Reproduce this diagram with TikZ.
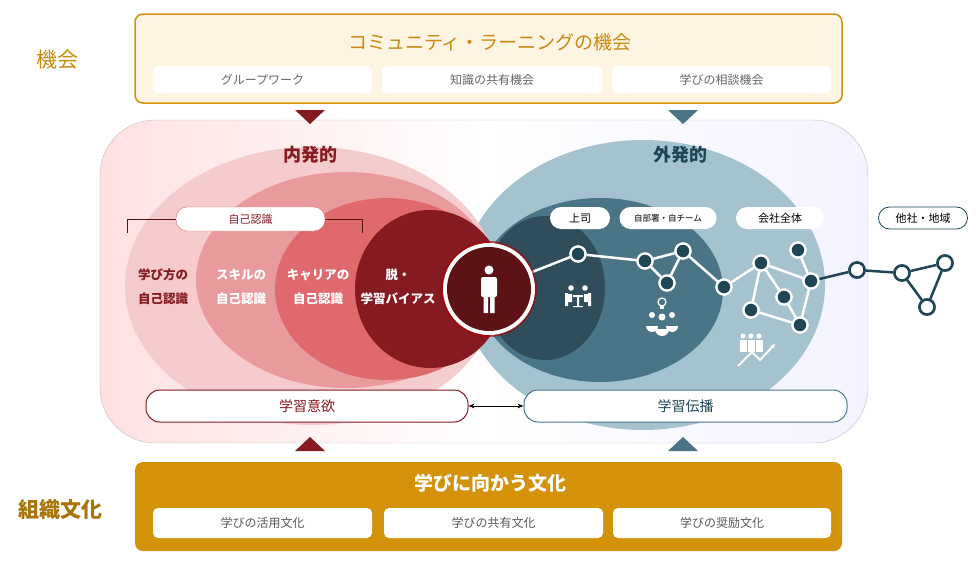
\documentclass[tikz,border=0pt]{standalone}
\usepackage{fontspec}
\setmainfont{Noto Sans CJK JP}
\usetikzlibrary{arrows.meta}
\definecolor{gold}{HTML}{D4920A}
\definecolor{goldtxt}{HTML}{C98A12}
\definecolor{cream}{HTML}{FDF4E2}
\definecolor{dred}{HTML}{851A20}
\definecolor{pk1}{HTML}{F4C8CA}
\definecolor{pk2}{HTML}{E99A9D}
\definecolor{pk3}{HTML}{E0696E}
\definecolor{bl1}{HTML}{A4C3CF}
\definecolor{bl2}{HTML}{4A7587}
\definecolor{bl3}{HTML}{2F4D5A}
\definecolor{teal}{HTML}{1F4654}
\tikzset{x=1pt,y=-1pt,
 wbox/.style={fill=white,rounded corners=5pt},
 pill/.style={fill=white,rounded corners=11pt,inner sep=0pt},
 nd/.style={circle,fill=teal,draw=white,line width=2.2pt,minimum size=15pt,inner sep=0pt},
 od/.style={circle,fill=white,draw=teal,line width=2.5pt,minimum size=15pt,inner sep=0pt},
 wl/.style={white,line width=2.5pt},
 dl/.style={teal,line width=2.5pt}}
\begin{document}
\begin{tikzpicture}
\useasboundingbox (0,0) rectangle (980,570);
% top box
\draw[gold,line width=1.5pt,fill=cream,rounded corners=8pt] (135,14) rectangle (842,103);
\node[goldtxt,font=\fontsize{19}{20}\selectfont] (tt) at (490,42) {コミュニティ・ラーニングの機会};
\foreach \a/\b/\t in {153/372/グループワーク,382/602/知識の共有機会,612/831/学びの相談機会}
 {\draw[wbox,draw=none] (\a,66) rectangle (\b,93); \node[gray!80!black,font=\fontsize{12}{12}\selectfont] at ({(\a+\b)/2},79.5) {\t};}
\node[goldtxt,font=\fontsize{21}{22}\selectfont] (k1) at (57,60) {機会};
% big area
\shade[left color=red!12,right color=cyan!8!blue!5,middle color=white,rounded corners=55pt] (100,120) rectangle (868,443);
\draw[gray!50,rounded corners=55pt] (100,120) rectangle (868,443);
\fill[dred] (295,110) -- (325,110) -- (310,124) -- cycle;
\fill[bl2] (668,110) -- (698,110) -- (683,124) -- cycle;
\fill[dred] (295,451) -- (325,451) -- (310,437) -- cycle;
\fill[bl2] (668,451) -- (698,451) -- (683,437) -- cycle;
% blue ellipses
\fill[bl1] (643,285) ellipse [x radius=182,y radius=145];
\fill[bl2] (600,290) ellipse [x radius=123,y radius=92];
\fill[bl3] (545,288) ellipse [x radius=60,y radius=72];
% red ellipses
\fill[pk1,opacity=0.9] (312,286) ellipse [x radius=187,y radius=139];
\fill[pk2] (346,280) ellipse [x radius=150,y radius=108];
\fill[pk3] (387,289) ellipse [x radius=112,y radius=91];
\fill[dred] (430,289) ellipse [x radius=75,y radius=79];
\node[dred,font=\bfseries\fontsize{18}{18}\selectfont] (in) at (310,155) {内発的};
\node[teal,font=\bfseries\fontsize{18}{18}\selectfont] (ex) at (680,155) {外発的};
% self recognition bracket
\draw[dred!70!black] (127,233) -- (127,219) -- (176,219) (325,219) -- (362,219) -- (362,233);
\node[pill,draw=pk3,minimum width=149pt,minimum height=24pt,text=dred,font=\fontsize{11}{11}\selectfont] (sr) at (250.5,219) {自己認識};
\node[dred,align=center,font=\bfseries\fontsize{12.5}{24}\selectfont] (t1) at (163,287) {学び方の\\自己認識};
\node[white,align=center,font=\bfseries\fontsize{12.5}{24}\selectfont] (t2) at (241,287) {スキルの\\自己認識};
\node[white,align=center,font=\bfseries\fontsize{12.5}{24}\selectfont] (t3) at (318,287) {キャリアの\\自己認識};
\node[white,align=center,font=\bfseries\fontsize{12.5}{24}\selectfont] (t4) at (398,287) {脱・\\学習バイアス};
% network
\node[nd] (n1) at (578,254) {};
\node[nd] (n2) at (645,261) {};
\node[nd] (n3) at (683,251) {};
\node[nd] (n4) at (667,283) {};
\node[nd] (n5) at (724,287) {};
\node[nd] (n6) at (761,263) {};
\node[nd] (n7) at (798,250) {};
\node[nd] (n8) at (811,281) {};
\node[nd] (n9) at (784,297) {};
\node[nd] (n10) at (751,310) {};
\node[nd] (n11) at (800,325) {};
\node[od] (m1) at (857,270) {};
\node[od] (m2) at (902,273) {};
\node[od] (m3) at (945,263) {};
\node[od] (m4) at (927,307) {};
\coordinate (pc) at (489,289);
\draw[wl] (pc) -- (n1) (n1) -- (n2) (n2) -- (n3) (n2) -- (n4) (n3) -- (n4) (n3) -- (n5) (n5) -- (n6)
 (n6) -- (n8) (n6) -- (n9) (n6) -- (n10) (n10) -- (n11) (n9) -- (n11) (n8) -- (n11) (n7) -- (n8);
\draw[dl] (n8) -- (m1) (m1) -- (m2) (m2) -- (m3) (m3) -- (m4) (m4) -- (m2);
\foreach \n in {n1,n2,n3,n4,n5,n6,n7,n8,n9,n10,n11} \node[nd] at (\n) {};
\foreach \n in {m1,m2,m3,m4} \node[od] at (\n) {};
% person
\node[circle,fill=red!70!black,minimum size=96pt,inner sep=0pt,opacity=0.6] at (pc) {};
\node[circle,fill=white,minimum size=92pt,inner sep=0pt] at (pc) {};
\node[circle,fill=dred!70!black,minimum size=84pt,inner sep=0pt] (person) at (pc) {};
\fill[white] (489,270) circle (4.5);
\fill[white,rounded corners=2pt] (481,277) rectangle (497,297);
\fill[white] (483.5,294) rectangle (488,313) (490,294) rectangle (494.5,313);
% labels
\node[pill,minimum width=60pt,minimum height=22pt,font=\fontsize{11}{11}\selectfont] (l1) at (580,218) {上司};
\node[pill,minimum width=97pt,minimum height=22pt,font=\fontsize{8.5}{9}\selectfont] (l2) at (668,218) {自部署・自チーム};
\node[pill,minimum width=88pt,minimum height=22pt,font=\fontsize{11}{11}\selectfont] (l3) at (780,218) {会社全体};
\node[pill,draw=teal,line width=0.8pt,minimum width=89pt,minimum height=22pt,font=\fontsize{11}{11}\selectfont] (l4) at (923,218) {他社・地域};
% icons
\begin{scope}[white]
\fill (571,288) circle (2.8) (585,288) circle (2.8);
\fill (573,295) rectangle (583,297) (577,297) rectangle (579,306) (573,306) rectangle (583,307);
\fill (565,293) rectangle (568,306) (588,293) rectangle (591,306);
\fill (568,294) rectangle (572,302) (584,294) rectangle (588,302);
\draw[line width=1.2pt] (662,302) circle (4);
\fill (660,306) rectangle (664,309);
\fill (652,315) circle (3) (672,315) circle (3) (662,317) circle (3.5);
\fill (646,326) arc (180:0:6) -- cycle (666,326) arc (180:0:6) -- cycle (655,329) arc (180:0:7) -- cycle;
\foreach \xx in {743,751,759} {\fill (\xx,336) circle (2.6); \fill (\xx-3.5,340) rectangle (\xx+3.5,352);}
\draw[line width=2pt,-{Latex[length=6pt]}] (738,366) -- (752,352) -- (760,360) -- (776,343);
\end{scope}
% pills bottom
\node[pill,draw=dred,line width=1pt,rounded corners=14pt,minimum width=322pt,minimum height=32pt,text=dred,font=\fontsize{14}{14}\selectfont] (iy) at (307,406) {学習意欲};
\node[pill,draw=bl2,line width=1pt,rounded corners=14pt,minimum width=323pt,minimum height=32pt,text=teal,font=\fontsize{14}{14}\selectfont] (dp) at (685.5,406) {学習伝播};
\draw[{Stealth[length=6pt]}-{Stealth[length=6pt]},line width=0.8pt] (iy) -- (dp);
% bottom box
\draw[fill=gold,draw=none,rounded corners=8pt] (135,462) rectangle (842,551);
\node[white,font=\bfseries\fontsize{19}{20}\selectfont] (bt) at (490,483) {学びに向かう文化};
\foreach \a/\b/\t in {153/372/学びの活用文化,384/603/学びの共有文化,613/831/学びの奨励文化}
 {\draw[wbox,draw=none] (\a,508) rectangle (\b,538); \node[gray!70!black,font=\fontsize{12}{12}\selectfont] at ({(\a+\b)/2},523) {\t};}
\node[gold!80!black,font=\bfseries\fontsize{21}{22}\selectfont] (k2) at (60,510) {組織文化};
\end{tikzpicture}
\end{document}
